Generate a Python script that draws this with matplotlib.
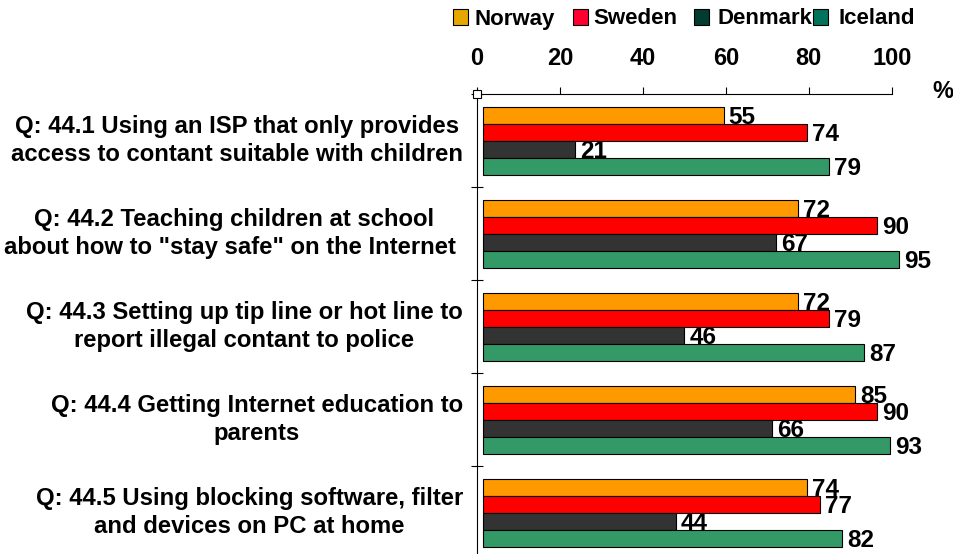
import numpy as np
import matplotlib.pyplot as plt
from matplotlib.patches import Rectangle

plt.rcParams['font.family'] = ['Liberation Sans', 'DejaVu Sans']
plt.rcParams['font.weight'] = 'bold'

# data
questions = ['Q: 44.1 Using an ISP that only provides\naccess to contant suitable with children',
             'Q: 44.2 Teaching children at school\nabout how to "stay safe" on the Internet ',
             'Q: 44.3 Setting up tip line or hot line to\nreport illegal contant to police',
             'Q: 44.4 Getting Internet education to\nparents',
             'Q: 44.5 Using blocking software, filter\nand devices on PC at home']
countries = ['Norway', 'Sweden', 'Denmark', 'Iceland']
norway = [55, 72, 72, 85, 74]
sweden = [74, 90, 79, 90, 77]
denmark = [21, 67, 46, 66, 44]
iceland = [79, 95, 87, 93, 82]
ticks = [0, 20, 40, 60, 80, 100]

series = [norway, sweden, denmark, iceland]
bar_colors = ['#FF9900', '#FF0000', '#333333', '#339966']
legend_colors = ['#E6A800', '#FF0030', '#003C30', '#00735A']

W, H = 954, 554
fig = plt.figure(figsize=(W / 100, H / 100), dpi=100)

# axes frame in pixels
x0, x1 = 477, 891.7
ytop = 94
cat_h = 93
pos = [x0 / W, 1 - (ytop + 5 * cat_h) / H, (x1 - x0) / W, 5 * cat_h / H]

ax = fig.add_axes(pos)
ax.set_xlim(0, 100)
ax.set_ylim(5, 0)
ax.xaxis.tick_top()
ax.set_xticks(ticks)
ax.set_xticklabels([str(t) for t in ticks], fontsize=17, fontweight='bold')
ax.tick_params(axis='x', direction='out', length=5, width=0.8, pad=12)
ax.set_yticks(np.arange(6))
ax.set_yticklabels([])
ax.tick_params(axis='y', direction='inout', length=8, width=0.8)
ax.spines['right'].set_visible(False)
ax.spines['bottom'].set_visible(False)
ax.plot([0], [0], marker='s', ms=6, mfc='white', mec='black', mew=0.8,
        clip_on=False, zorder=5)

# bars use their own scale (as in the original chart)
bx = fig.add_axes(pos, frameon=False)
bx.set_xlim(-6 / 4.38, (x1 - 483) / 4.38)
bx.set_ylim(5, 0)
bx.set_xticks([])
bx.set_yticks([])

bar_h = 17 / cat_h
start = 13 / cat_h
for k, vals in enumerate(series):
    y = np.arange(5) + start + bar_h * (k + 0.5)
    bx.barh(y, vals, height=bar_h, color=bar_colors[k], edgecolor='black',
            linewidth=0.8, clip_on=False)
    for yi, v in zip(y, vals):
        bx.text(v + 1.1, yi + 0.02, str(v), va='center', ha='left',
                fontsize=17.5, fontweight='bold', clip_on=False)

# category labels
for i, q in enumerate(questions):
    ax.text(-3.4, i + 0.5, q, ha='right', va='center', multialignment='center',
            fontsize=17.2, fontweight='bold', linespacing=1.23)

# percent sign
fig.text(932 / W, 1 - 92 / H, '%', fontsize=17, fontweight='bold', va='center')

# legend
sq_x = [453, 573, 694, 813]
tx_x = [475, 593, 718, 839]
for k in range(4):
    fig.patches.append(Rectangle((sq_x[k] / W, 1 - 24.5 / H), 15 / W, 15 / H,
                                 transform=fig.transFigure, facecolor=legend_colors[k],
                                 edgecolor='black', linewidth=0.8))
    fig.text(tx_x[k] / W, 1 - 19 / H, countries[k], fontsize=16,
             fontweight='bold', va='center', ha='left')

fig.savefig('out.png', dpi=100)
